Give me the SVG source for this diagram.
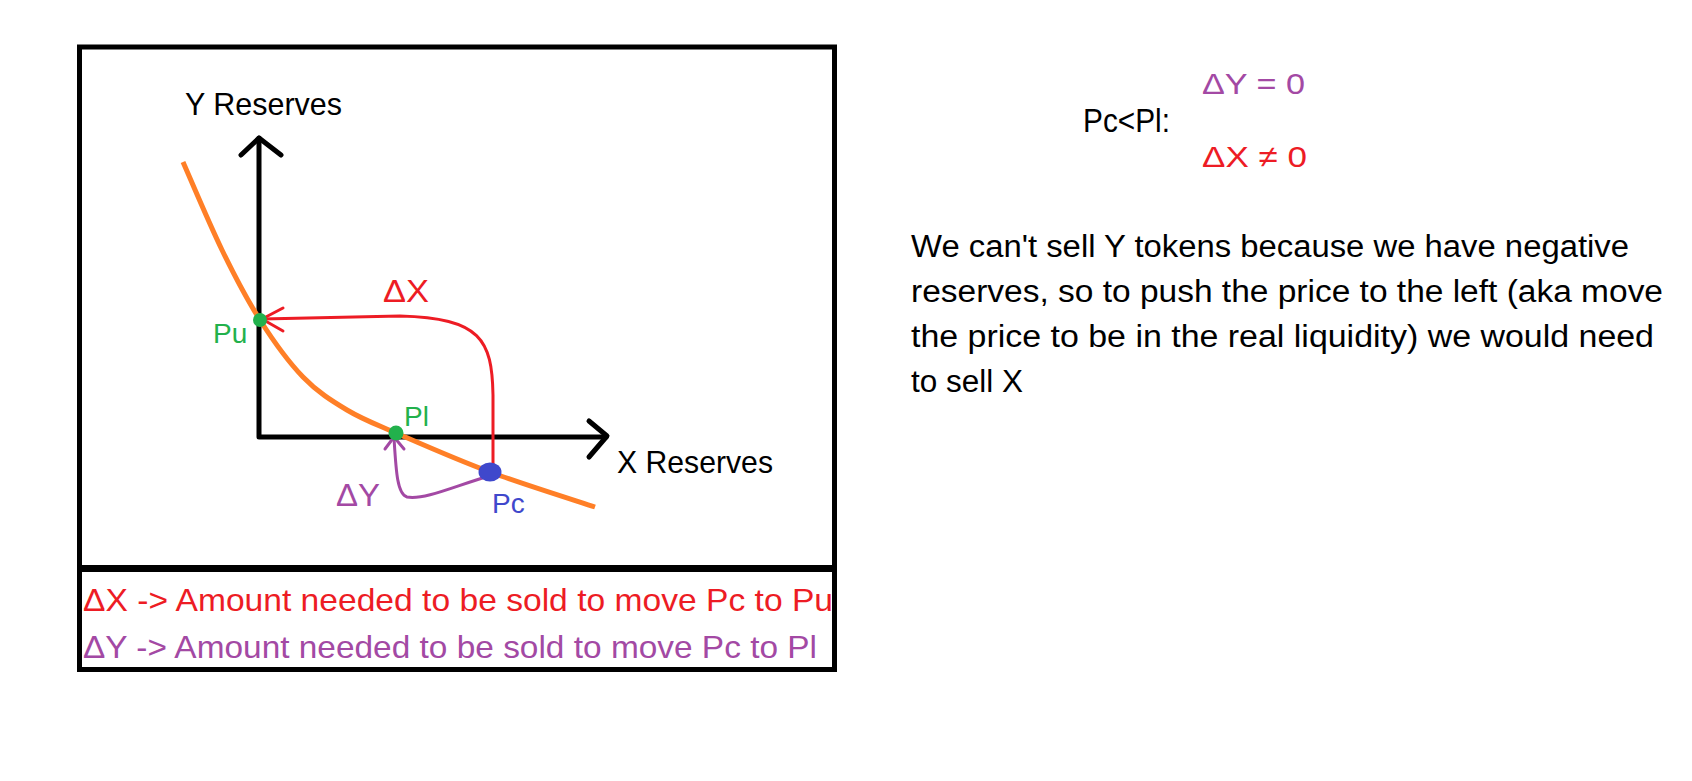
<svg xmlns="http://www.w3.org/2000/svg" width="1692" height="781" viewBox="0 0 1692 781">
<style>
text{font-family:"Liberation Sans",Arial,sans-serif}
.blk{fill:#000}
.red{fill:#ed1c24}
.pur{fill:#a349a4}
.grn{fill:#22b14c}
.blu{fill:#3f48cc}
.ax{fill:none;stroke:#000;stroke-width:5;stroke-linecap:round;stroke-linejoin:round}
.cv{fill:none;stroke:#ff7f27;stroke-width:5;stroke-linecap:butt}
.rl{fill:none;stroke:#ed1c24;stroke-width:3;stroke-linecap:round;stroke-linejoin:round}
.pl{fill:none;stroke:#a349a4;stroke-width:3;stroke-linecap:round;stroke-linejoin:round}
</style>
<rect width="1692" height="781" fill="#fff"/>
<g id="frame">
<rect x="79.5" y="47" width="755" height="622.5" fill="none" stroke="#000" stroke-width="5"/>
<line x1="79.5" y1="568.5" x2="834.5" y2="568.5" stroke="#000" stroke-width="7"/>
</g>
<g id="axes">
<polyline class="ax" points="259,138 259,437 606,437"/>
<polyline class="ax" points="241,155 259,138 281,155"/>
<polyline class="ax" points="589,421 607,436 589,457"/>
<text class="blk" x="185" y="115" font-size="32" textLength="157" lengthAdjust="spacingAndGlyphs">Y Reserves</text>
<text class="blk" x="617" y="473" font-size="32" textLength="156" lengthAdjust="spacingAndGlyphs">X Reserves</text>
</g>
<g id="curve">
<path class="cv" d="M183,162 C189.5,176.7 209.2,223.7 222,250 C234.8,276.3 246.5,298.8 260,320 C273.5,341.2 288.5,362 303,377 C317.5,392 331.5,400.7 347,410 C362.5,419.3 372.2,422.7 396,433 C419.8,443.3 456.8,459.7 490,472 C523.2,484.3 577.5,501.2 595,507"/>
</g>
<g id="connectors">
<path class="rl" d="M493,468 L493,395 C492,340 481,318 400,316 L262,319"/>
<polyline class="rl" points="283,308 262,319 283,331"/>
<path class="pl" d="M486,477 C455,486 425,500 407,497 C397,494 396,470 394,438"/>
<polyline class="pl" points="385,449 394,437 404,449"/>
<text class="red" x="383" y="302" font-size="32" textLength="46" lengthAdjust="spacingAndGlyphs">ΔX</text>
<text class="pur" x="336" y="506" font-size="32" textLength="44" lengthAdjust="spacingAndGlyphs">ΔY</text>
</g>
<g id="node-pu">
<circle cx="260" cy="320" r="7" fill="#22b14c"/>
<text class="grn" x="213" y="343" font-size="28">Pu</text>
</g>
<g id="node-pl">
<circle cx="396" cy="433" r="7.5" fill="#22b14c"/>
<text class="grn" x="404" y="426" font-size="28">Pl</text>
</g>
<g id="node-pc">
<ellipse cx="490" cy="472" rx="11.5" ry="9.5" fill="#3f48cc"/>
<text class="blu" x="492" y="513" font-size="28">Pc</text>
</g>
<g id="legend">
<text class="red" x="83" y="611" font-size="32" textLength="750" lengthAdjust="spacingAndGlyphs">ΔX -&gt; Amount needed to be sold to move Pc to Pu</text>
<text class="pur" x="83" y="658" font-size="32" textLength="734" lengthAdjust="spacingAndGlyphs">ΔY -&gt; Amount needed to be sold to move Pc to Pl</text>
</g>
<g id="condition">
<text class="blk" x="1083" y="132" font-size="33" textLength="87" lengthAdjust="spacingAndGlyphs">Pc&lt;Pl:</text>
<text class="pur" x="1202" y="94" font-size="30" textLength="103" lengthAdjust="spacingAndGlyphs">ΔY = 0</text>
<text class="red" x="1202" y="167" font-size="30" textLength="105" lengthAdjust="spacingAndGlyphs">ΔX ≠ 0</text>
</g>
<g id="explanation" class="blk" font-size="31">
<text x="911" y="257" textLength="718" lengthAdjust="spacingAndGlyphs">We can't sell Y tokens because we have negative</text>
<text x="911" y="302" textLength="752" lengthAdjust="spacingAndGlyphs">reserves, so to push the price to the left (aka move</text>
<text x="911" y="347" textLength="743" lengthAdjust="spacingAndGlyphs">the price to be in the real liquidity) we would need</text>
<text x="911" y="392" textLength="112" lengthAdjust="spacingAndGlyphs">to sell X</text>
</g>
</svg>
